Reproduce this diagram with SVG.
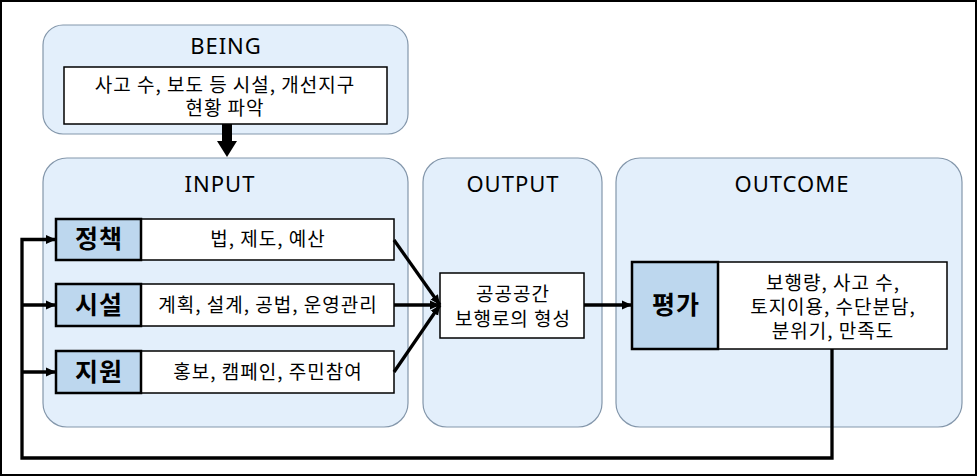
<svg xmlns="http://www.w3.org/2000/svg" width="977" height="476" viewBox="0 0 977 476">
<style>
.cont{fill:#e3effb;stroke:#8497ab;stroke-width:1.2}
.wbox{fill:#ffffff;stroke:#000;stroke-width:1.5}
.bbox{fill:#bdd7ee;stroke:#000;stroke-width:2.5}
.ttl{font-family:"Noto Sans","Noto Sans CJK KR",sans-serif;font-size:22px;letter-spacing:1px;fill:#000;text-anchor:middle}
.txt{font-family:"Noto Sans CJK KR",sans-serif;font-size:19px;letter-spacing:1px;fill:#000;text-anchor:middle}
.lbl{font-family:"Noto Sans CJK KR",sans-serif;font-size:25px;font-weight:bold;letter-spacing:1px;fill:#000;text-anchor:middle}
.ln{fill:none;stroke:#000;stroke-width:3.3}
</style>
<defs>
<marker id="ah" markerUnits="userSpaceOnUse" markerWidth="12" markerHeight="12" refX="10" refY="6" orient="auto">
<path d="M0,1.5 L10,6 L0,10.5 Z" fill="#000"/>
</marker>
</defs>
<rect x="1" y="1" width="975" height="474" fill="#fff" stroke="#000" stroke-width="2"/>
<g id="being">
<rect class="cont" x="43" y="25" width="365" height="109" rx="20"/>
<text class="ttl" x="226" y="54">BEING</text>
<rect class="wbox" x="64" y="67" width="323" height="57"/>
<text class="txt" x="225" y="92">사고 수, 보도 등 시설, 개선지구</text>
<text class="txt" x="225" y="115">현황 파악</text>
</g>
<g id="input">
<rect class="cont" x="43" y="158" width="365" height="269" rx="24"/>
<text class="ttl" x="220" y="192">INPUT</text>
</g>
<g id="jeongchaek">
<rect class="wbox" x="141" y="219" width="253" height="41"/>
<rect class="bbox" x="56" y="219" width="85" height="41"/>
<text class="lbl" x="99" y="248">정책</text>
<text class="txt" x="268" y="246">법, 제도, 예산</text>
</g>
<g id="siseol">
<rect class="wbox" x="141" y="284" width="253" height="42"/>
<rect class="bbox" x="56" y="284" width="85" height="42"/>
<text class="lbl" x="99" y="314">시설</text>
<text class="txt" x="268" y="312">계획, 설계, 공법, 운영관리</text>
</g>
<g id="jiwon">
<rect class="wbox" x="141" y="351" width="253" height="42"/>
<rect class="bbox" x="56" y="351" width="85" height="42"/>
<text class="lbl" x="99" y="381">지원</text>
<text class="txt" x="268" y="379">홍보, 캠페인, 주민참여</text>
</g>
<g id="output">
<rect class="cont" x="423" y="158" width="179" height="269" rx="24"/>
<text class="ttl" x="513" y="192">OUTPUT</text>
<rect class="wbox" x="440" y="273" width="144" height="65"/>
<text class="txt" x="513" y="301">공공공간</text>
<text class="txt" x="513" y="326">보행로의 형성</text>
</g>
<g id="outcome">
<rect class="cont" x="616" y="158" width="346" height="269" rx="24"/>
<text class="ttl" x="792" y="192">OUTCOME</text>
<rect class="wbox" x="718" y="262" width="229" height="87"/>
<rect class="bbox" x="632" y="262" width="86" height="87"/>
<text class="lbl" x="676" y="314">평가</text>
<text class="txt" x="833" y="290">보행량, 사고 수,</text>
<text class="txt" x="833" y="314">토지이용, 수단분담,</text>
<text class="txt" x="833" y="338">분위기, 만족도</text>
</g>
<g id="connectors">
<polygon points="222,124 232,124 232,141 237,141 227,157 217,141 222,141" fill="#000"/>
<line class="ln" x1="394" y1="240" x2="440" y2="305" marker-end="url(#ah)"/>
<line class="ln" x1="394" y1="305" x2="440" y2="305" marker-end="url(#ah)"/>
<line class="ln" x1="394" y1="372" x2="440" y2="305" marker-end="url(#ah)"/>
<line class="ln" x1="584" y1="305" x2="632" y2="305" marker-end="url(#ah)"/>
<path class="ln" d="M832,349 V458 H22 V239.5 H56" marker-end="url(#ah)"/>
<line class="ln" x1="22" y1="305" x2="56" y2="305" marker-end="url(#ah)"/>
<line class="ln" x1="22" y1="372" x2="56" y2="372" marker-end="url(#ah)"/>
</g>
</svg>
